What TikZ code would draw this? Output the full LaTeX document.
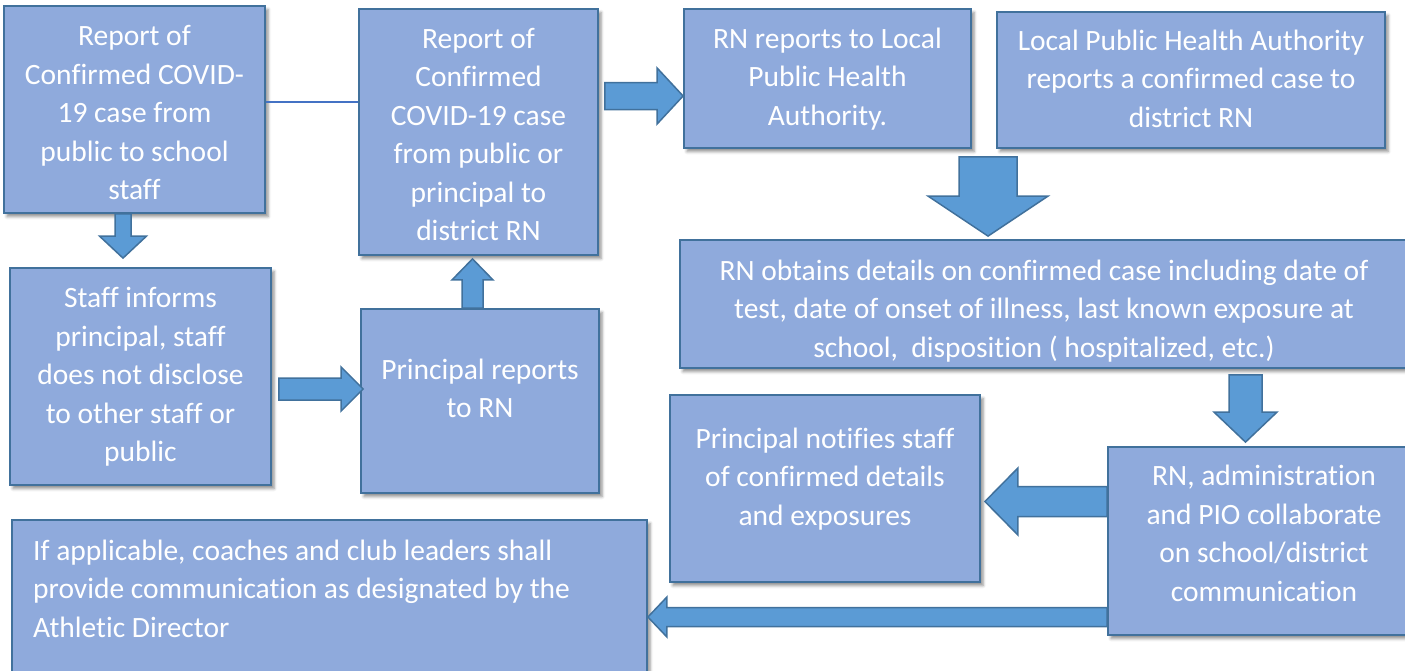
\documentclass[tikz,border=0pt]{standalone}
\usepackage{fontspec}
\setmainfont{Carlito}[Ligatures={NoCommon}]
\usetikzlibrary{calc,shadows.blur}
\definecolor{boxfill}{HTML}{8FAADC}
\definecolor{bord}{HTML}{41719C}
\definecolor{arrfill}{HTML}{5B9BD5}
\definecolor{linkblue}{HTML}{4472C4}
\tikzset{
  box/.style={draw=bord, line width=1.8pt, fill=boxfill, rectangle, inner sep=0pt,
    blur shadow={shadow xshift=3pt, shadow yshift=-3.5pt, shadow blur radius=3pt, shadow opacity=45}},
  txt/.style={text=white, font=\fontsize{29.5}{38.5}\selectfont, align=center, inner sep=0pt},
  barrow/.style={draw=bord, line width=1.5pt, fill=arrfill, line join=miter},
  link/.style={draw=linkblue, line width=2.2pt},
}
\newcommand\mkbox[5]{\node[box, minimum width={#4pt-#2pt}, minimum height={#5pt-#3pt}] (#1) at ({(#2+#4)/2},{(#3+#5)/2}) {};}
% block arrow from #1 to #2: shaft half width #3, head half width #4, head length #5
\newcommand\blockarrow[5]{%
  \draw[barrow] let \p1=(#1), \p2=(#2), \n1={veclen(\x2-\x1,\y2-\y1)}, \n2={atan2(\y2-\y1,\x2-\x1)} in
   [shift={(\p1)}, rotate=\n2]
   (0pt,#3pt) -- ({\n1-#5pt},#3pt) -- ({\n1-#5pt},#4pt) -- ({\n1},0pt) -- ({\n1-#5pt},-#4pt) -- ({\n1-#5pt},-#3pt) -- (0pt,-#3pt) -- cycle;}
\begin{document}
\begin{tikzpicture}[x=1pt,y=-1pt]
\useasboundingbox (0,0) rectangle (1405,670);
% boxes
\mkbox{A}{4}{6}{265}{213}
\mkbox{B}{359}{9}{598}{255}
\mkbox{C}{684}{9}{971}{148}
\mkbox{D}{997}{12}{1385}{148}
\mkbox{E}{680}{240}{1412}{368}
\mkbox{F}{10}{268}{271}{485}
\mkbox{G}{361}{309}{599}{493}
\mkbox{H}{670}{395}{980}{582}
\mkbox{I}{1108}{447}{1420}{635}
\mkbox{J}{12}{520}{647}{700}
% plain link
\coordinate (ab) at ([yshift=7.5pt]A.east);
\draw[link] (ab) -- (ab -| B.west);
% block arrows
\blockarrow{[xshift=-11.5pt]A.south}{[xshift=-17.5pt,yshift=9pt]F.north}{8}{23.5}{22}
\blockarrow{[xshift=-7.5pt]G.north}{[xshift=-6pt,yshift=-3pt]B.south}{10.5}{20.5}{21}
\blockarrow{[xshift=7pt,yshift=-12.5pt]F.east}{[xshift=3pt,yshift=12pt]G.west}{11}{22}{22}
\blockarrow{[xshift=6pt,yshift=36pt]B.east}{[yshift=-17.5pt]C.west}{13.5}{28}{26}
\blockarrow{[xshift=-203pt,yshift=-8pt]D.south}{[xshift=-58pt,yshift=3pt]E.north}{29}{60}{40}
\blockarrow{[xshift=199.5pt,yshift=-6pt]E.south}{[xshift=-18.5pt,yshift=4pt]I.north}{16.5}{31.5}{30}
\blockarrow{[yshift=39.5pt]I.west}{[xshift=4pt,yshift=-13pt]H.east}{15}{33.5}{33}
\blockarrow{[yshift=-76pt]I.west}{[yshift=-7pt]J.east}{9.5}{20}{19}
% texts
\node[txt] (At) at (134.5,115) {\strut Report of\\Confirmed COVID-\\19 case from\\public to school\\staff\strut};
\node[txt] (Bt) at (478.5,137) {\strut Report of\\Confirmed\\COVID-19 case\\from public or\\principal to\\district RN\strut};
\node[txt] (Ct) at (827.5,79) {\strut RN reports to Local\\Public Health\\Authority.\strut};
\node[txt] (Dt) at (1191,81) {\strut Local Public Health Authority\\reports a confirmed case to\\district RN\strut};
\begin{scope}
\clip (E.north west) rectangle (E.south east);
\node[txt] (Et) at (1044,311) {\strut RN obtains details on confirmed case including date of\\test, date of onset of illness, last known exposure at\\school,\ \ disposition ( hospitalized, etc.)\strut};
\end{scope}
\node[txt] (Ft) at (140.5,377) {\strut Staff informs\\principal, staff\\does not disclose\\to other staff or\\public\strut};
\node[txt] (Gt) at (480,391) {\strut Principal reports\\to RN\strut};
\node[txt] (Ht) at (825,479) {\strut Principal notifies staff\\of confirmed details\\and exposures\strut};
\node[txt] (It) at (1264,536) {\strut RN, administration\\and PIO collaborate\\on school/district\\communication\strut};
\node[txt, align=left, anchor=west] (Jt) at (33,591) {\strut If applicable, coaches and club leaders shall\\provide communication as designated by the\\Athletic Director\strut};
\end{tikzpicture}
\end{document}
